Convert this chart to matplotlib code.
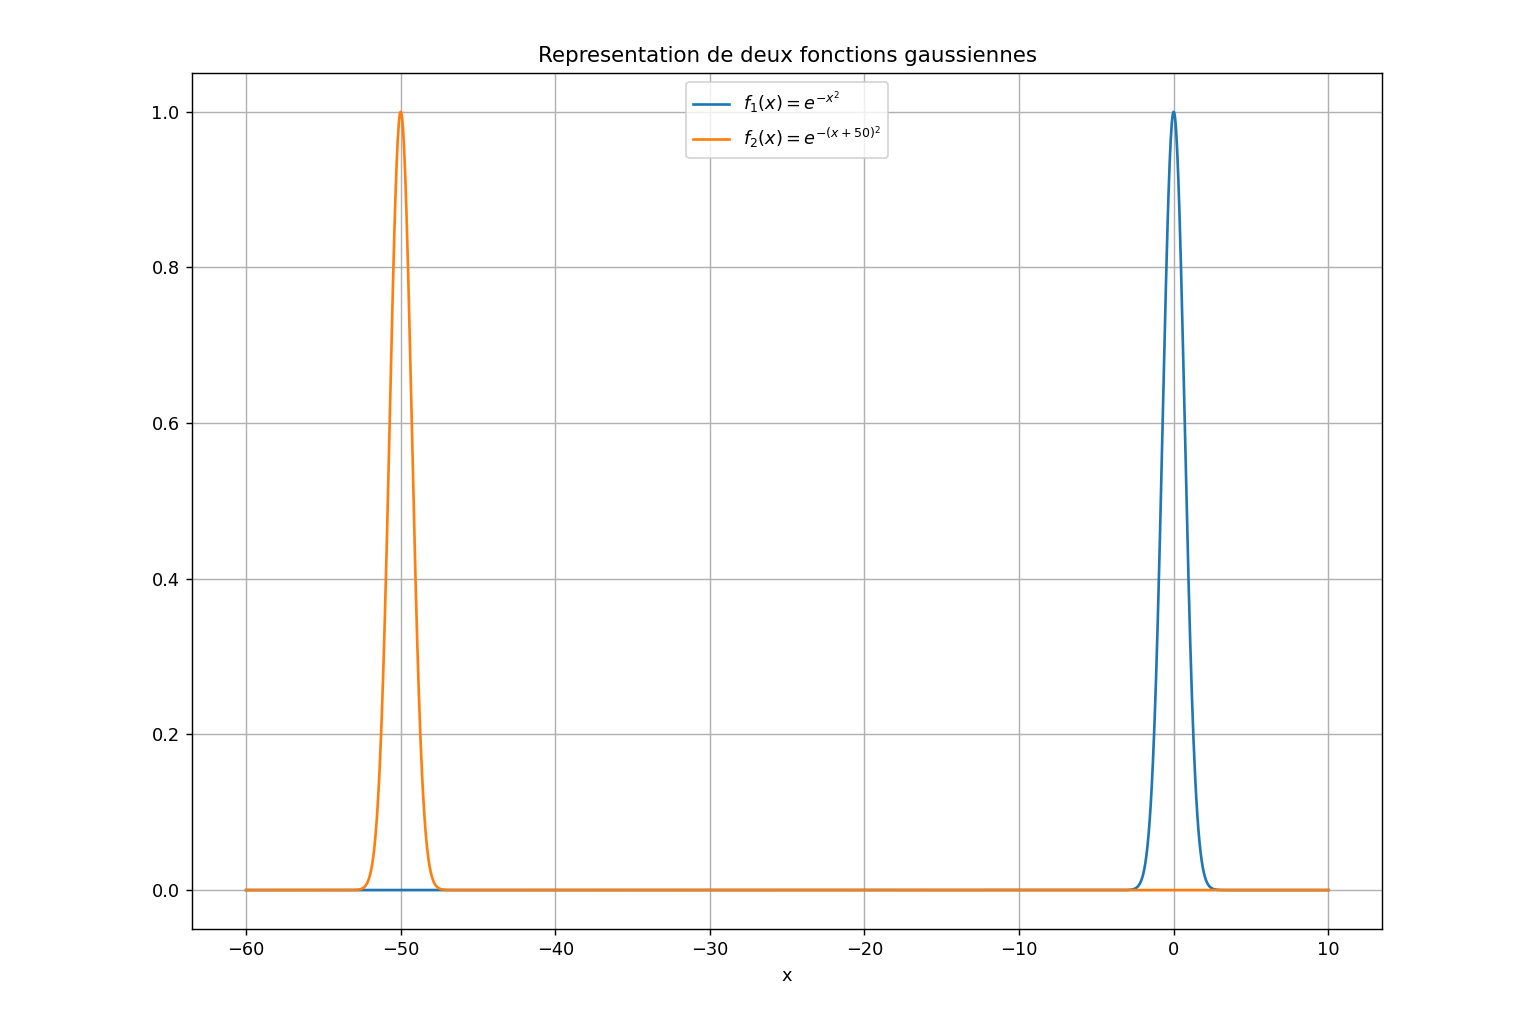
import numpy as np
from matplotlib import pyplot as plt

# intervalle et centres des deux gaussiennes
x_min, x_max = -60, 10
centres = [0, -50]
labels = [r'$f_1(x) = e^{-x^2}$', r'$f_2(x) = e^{-(x+50)^2}$']
couleurs = ['#1f77b4', '#ff7f0e']

x = np.linspace(x_min, x_max, 2000)

fig = plt.figure(figsize=(12, 8), dpi=128)
ax = fig.add_axes([0.125, 0.0928, 0.775, 0.8359])

for c, lab, col in zip(centres, labels, couleurs):
    ax.plot(x, np.exp(-(x - c) ** 2), color=col, label=lab)

ax.set_title('Representation de deux fonctions gaussiennes')
ax.set_xlabel('x')
ax.set_xticks([-60, -50, -40, -30, -20, -10, 0, 10])
ax.set_yticks([0.0, 0.2, 0.4, 0.6, 0.8, 1.0])
ax.grid(True)
ax.legend(loc='upper center')

fig.savefig('out.png', dpi=128)
